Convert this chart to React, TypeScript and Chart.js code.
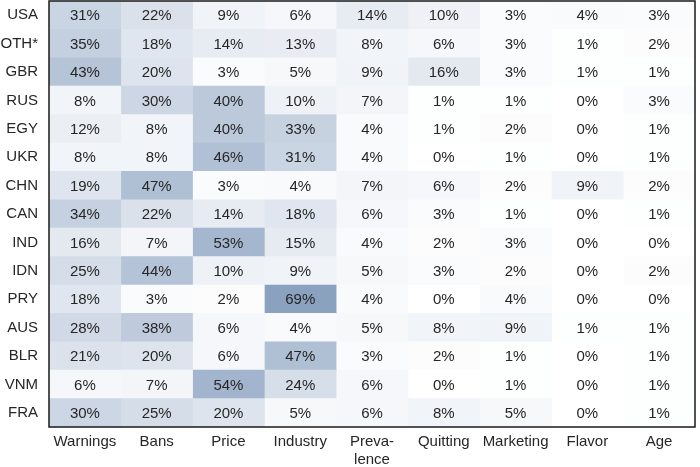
import React, { useEffect, useRef } from "react";
import { Chart, registerables } from "chart.js";

Chart.register(...registerables);

const countries = ["USA", "OTH*", "GBR", "RUS", "EGY", "UKR", "CHN", "CAN", "IND", "IDN", "PRY", "AUS", "BLR", "VNM", "FRA"];
const columns = ["Warnings", "Bans", "Price", "Industry", "Preva-\nlence", "Quitting", "Marketing", "Flavor", "Age"];

const warnings = [31, 35, 43, 8, 12, 8, 19, 34, 16, 25, 18, 28, 21, 6, 30];
const bans = [22, 18, 20, 30, 8, 8, 47, 22, 7, 44, 3, 38, 20, 7, 25];
const price = [9, 14, 3, 40, 40, 46, 3, 14, 53, 10, 2, 6, 6, 54, 20];
const industry = [6, 13, 5, 10, 33, 31, 4, 18, 15, 9, 69, 4, 47, 24, 5];
const prevalence = [14, 8, 9, 7, 4, 4, 7, 6, 4, 5, 4, 5, 3, 6, 6];
const quitting = [10, 6, 16, 1, 1, 0, 6, 3, 2, 3, 0, 8, 2, 0, 8];
const marketing = [3, 3, 3, 1, 2, 1, 2, 1, 3, 2, 4, 9, 1, 1, 5];
const flavor = [4, 1, 1, 0, 0, 0, 9, 0, 0, 0, 0, 1, 0, 0, 0];
const age = [3, 2, 1, 3, 1, 1, 2, 1, 0, 2, 0, 1, 1, 1, 1];

const seriesValues = [warnings, bans, price, industry, prevalence, quitting, marketing, flavor, age];

const MAX = 69;
const BASE = [138, 161, 192];
function cellColor(v: number) {
  const t = Math.min(1, v / MAX);
  const c = BASE.map((b) => Math.round(255 - (255 - b) * t));
  return `rgb(${c[0]},${c[1]},${c[2]})`;
}

const FONT = '"Liberation Sans", Arial, sans-serif';

export default function App() {
  const ref = useRef<HTMLCanvasElement | null>(null);
  useEffect(() => {
    document.body.style.margin = "0";
    const canvas = ref.current!;
    const labelPlugin = {
      id: "cellLabels",
      afterDatasetsDraw(chart: any) {
        const ctx = chart.ctx;
        const xs = chart.scales.x;
        const ys = chart.scales.y;
        ctx.save();
        ctx.font = `15px ${FONT}`;
        ctx.fillStyle = "#262626";
        ctx.textAlign = "center";
        ctx.textBaseline = "middle";
        seriesValues.forEach((arr, j) => {
          arr.forEach((v, i) => {
            const x = xs.getPixelForValue(j + 0.5);
            const y = ys.getPixelForValue(i);
            ctx.fillText(`${v}%`, x, y + 1);
          });
        });
        const a = chart.chartArea;
        ctx.strokeStyle = "#1a1a1a";
        ctx.lineWidth = 1.5;
        ctx.strokeRect(a.left, a.top, a.right - a.left, a.bottom - a.top);
        ctx.restore();
      },
    };
    const chart = new Chart(canvas, {
      type: "bar",
      data: {
        labels: countries,
        datasets: seriesValues.map((arr, j) => ({
          label: columns[j],
          data: arr.map(() => [j, j + 1]) as any,
          backgroundColor: arr.map((v) => cellColor(v)),
          borderWidth: 0,
          barPercentage: 1,
          categoryPercentage: 1,
          grouped: false,
        })),
      },
      options: {
        indexAxis: "y",
        animation: false,
        responsive: false,
        maintainAspectRatio: false,
        layout: { padding: { top: 1, right: 5, left: 0, bottom: 0 } },
        plugins: { legend: { display: false }, tooltip: { enabled: false } },
        scales: {
          x: {
            type: "linear",
            min: 0,
            max: columns.length,
            grid: { display: false, drawTicks: false },
            border: { display: false },
            afterBuildTicks: (scale: any) => {
              scale.ticks = columns.map((_, i) => ({ value: i + 0.5 }));
            },
            afterFit: (scale: any) => {
              scale.height = 40;
              scale.paddingLeft = 0;
              scale.paddingRight = 0;
            },
            ticks: {
              autoSkip: false,
              maxRotation: 0,
              padding: 6,
              color: "#262626",
              font: { family: FONT, size: 15 },
              callback: (value: any) => {
                const s = columns[Math.floor(Number(value))];
                return s ? s.split("\n") : "";
              },
            },
          },
          y: {
            type: "category",
            grid: { display: false, drawTicks: false },
            border: { display: false },
            afterFit: (scale: any) => {
              scale.width = 49;
              scale.paddingTop = 0;
              scale.paddingBottom = 0;
            },
            ticks: {
              padding: 11,
              color: "#262626",
              font: { family: FONT, size: 15 },
            },
          },
        },
      },
      plugins: [labelPlugin],
    } as any);
    return () => chart.destroy();
  }, []);
  return <canvas ref={ref} width={700} height={467} style={{ display: "block" }} />;
}
